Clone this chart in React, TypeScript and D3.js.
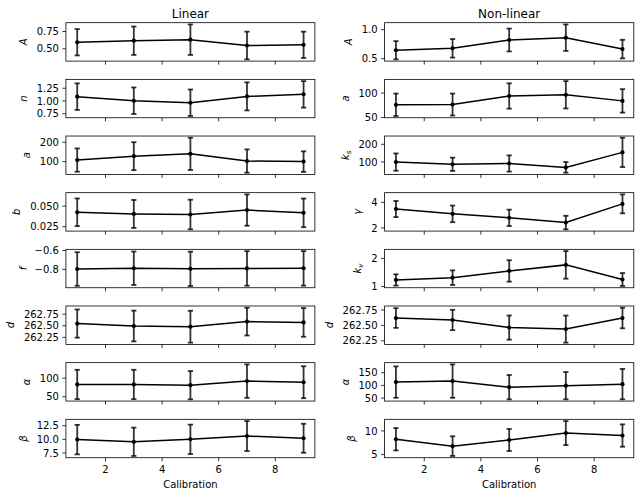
import React from "react";
import * as d3 from "d3";

// calibration points shared by every panel
const calibration = [1, 3, 5, 7, 9];
const xTicks = [2, 4, 6, 8];

// Linear model parameters (mean, error)
const linA = [0.595, 0.617, 0.632, 0.548, 0.558];
const linAErr = [0.19, 0.205, 0.22, 0.2, 0.19];
const linN = [1.085, 1.005, 0.965, 1.09, 1.13];
const linNErr = [0.26, 0.26, 0.26, 0.275, 0.26];
const linSmallA = [108, 128, 140, 103, 100];
const linSmallAErr = [60, 72, 83, 60, 53];
const linB = [0.0425, 0.0405, 0.0398, 0.0452, 0.0418];
const linBErr = [0.0168, 0.017, 0.018, 0.019, 0.0174];
const linF = [-0.796, -0.788, -0.794, -0.79, -0.789];
const linFErr = [0.178, 0.177, 0.182, 0.183, 0.183];
const linD = [262.548, 262.495, 262.48, 262.59, 262.573];
const linDErr = [0.305, 0.333, 0.345, 0.3, 0.31];
const linAlpha = [83, 83, 81, 92, 89];
const linAlphaErr = [39.5, 39.5, 38, 45, 43];
const linBeta = [9.95, 9.55, 10.0, 10.6, 10.2];
const linBetaErr = [2.7, 2.6, 2.7, 2.75, 2.65];

// Non-linear model parameters (mean, error)
const nlA = [0.645, 0.678, 0.822, 0.862, 0.665];
const nlAErr = [0.157, 0.16, 0.197, 0.228, 0.16];
const nlSmallA = [76, 76.5, 94, 96.5, 84];
const nlSmallAErr = [23, 22.5, 26, 28, 24];
const nlKs = [99, 86.5, 91, 69, 154];
const nlKsErr = [49, 37.5, 46, 30, 83];
const nlGamma = [3.48, 3.1, 2.79, 2.42, 3.88];
const nlGammaErr = [0.63, 0.65, 0.64, 0.53, 0.74];
const nlKv = [1.235, 1.315, 1.555, 1.77, 1.25];
const nlKvErr = [0.2, 0.26, 0.38, 0.49, 0.23];
const nlD = [262.62, 262.588, 262.465, 262.44, 262.62];
const nlDErr = [0.16, 0.165, 0.196, 0.22, 0.167];
const nlAlpha = [113, 117, 93, 99, 105];
const nlAlphaErr = [62, 66, 48, 54, 60];
const nlBeta = [8.25, 6.79, 8.09, 9.55, 9.03];
const nlBetaErr = [2.36, 2.08, 2.33, 2.54, 2.36];

// y tick labels per panel
const linTicks = [
  ["0.50", "0.75"],
  ["0.75", "1.00", "1.25"],
  ["100", "200"],
  ["0.025", "0.050"],
  ["\u22120.8", "\u22120.6"],
  ["262.25", "262.50", "262.75"],
  ["50", "100"],
  ["7.5", "10.0", "12.5"],
];
const nlTicks = [
  ["0.5", "1.0"],
  ["50", "100"],
  ["100", "200"],
  ["2", "4"],
  ["1", "2"],
  ["262.25", "262.50", "262.75"],
  ["50", "100", "150"],
  ["5", "10"],
];

const linLabels = ["A", "n", "a", "b", "f", "d", "\u03b1", "\u03b2"];
const nlLabels = ["A", "a", "k|s", "\u03b3", "k|v", "d", "\u03b1", "\u03b2"];

const linSeries = [
  [linA, linAErr],
  [linN, linNErr],
  [linSmallA, linSmallAErr],
  [linB, linBErr],
  [linF, linFErr],
  [linD, linDErr],
  [linAlpha, linAlphaErr],
  [linBeta, linBetaErr],
];
const nlSeries = [
  [nlA, nlAErr],
  [nlSmallA, nlSmallAErr],
  [nlKs, nlKsErr],
  [nlGamma, nlGammaErr],
  [nlKv, nlKvErr],
  [nlD, nlDErr],
  [nlAlpha, nlAlphaErr],
  [nlBeta, nlBetaErr],
];

const W = 640;
const H = 496;
const top0 = 22.7;
const rowStep = 56.66;
const rowH = 38.4;
const font = "DejaVu Sans";

function textWidth(s: string) {
  let w = 0;
  for (const c of s) w += c === "." ? 3.18 : 6.36;
  return w;
}

function Panel({ left, right, row, vals, errs, ticks, label, last }: any) {
  const top = top0 + row * rowStep;
  const bottom = top + rowH;
  const x = d3.scaleLinear().domain([0.6, 9.4]).range([left, right]);
  const lo = d3.min(vals, (v: number, i: number) => v - errs[i]) as number;
  const hi = d3.max(vals, (v: number, i: number) => v + errs[i]) as number;
  const pad = (hi - lo) * 0.05;
  const y = d3.scaleLinear().domain([lo - pad, hi + pad]).range([bottom, top]);
  const line = d3
    .line<number>()
    .x((_, i) => x(calibration[i]))
    .y((d) => y(d));
  const tw = d3.max(ticks, (t: string) => textWidth(t)) as number;
  const lx = left - 7 - tw - 10;
  const [main, sub] = label.split("|");
  return (
    <g>
      <path d={line(vals) as string} fill="none" stroke="black" strokeWidth={1.5} />
      {vals.map((v: number, i: number) => {
        const cx = x(calibration[i]);
        return (
          <g key={i} stroke="black" strokeOpacity={0.8} strokeWidth={1.8}>
            <line x1={cx} x2={cx} y1={y(v - errs[i])} y2={y(v + errs[i])} />
            <line x1={cx - 2.6} x2={cx + 2.6} y1={y(v - errs[i])} y2={y(v - errs[i])} />
            <line x1={cx - 2.6} x2={cx + 2.6} y1={y(v + errs[i])} y2={y(v + errs[i])} />
          </g>
        );
      })}
      {vals.map((v: number, i: number) => (
        <circle key={i} cx={x(calibration[i])} cy={y(v)} r={2.1} fill="black" />
      ))}
      <rect x={left} y={top} width={right - left} height={rowH} fill="none" stroke="black" strokeWidth={0.8} />
      {ticks.map((t: string) => {
        const ty = y(parseFloat(t.replace("\u2212", "-")));
        return (
          <g key={t}>
            <line x1={left - 3.5} x2={left} y1={ty} y2={ty} stroke="black" strokeWidth={0.8} />
            <text x={left - 7} y={ty} dy="0.36em" textAnchor="end" fontSize={10} fontFamily={font}>
              {t}
            </text>
          </g>
        );
      })}
      {xTicks.map((t) => (
        <g key={t}>
          <line x1={x(t)} x2={x(t)} y1={bottom} y2={bottom + 3.5} stroke="black" strokeWidth={0.8} />
          {last && (
            <text x={x(t)} y={bottom + 15.6} textAnchor="middle" fontSize={10} fontFamily={font}>
              {t}
            </text>
          )}
        </g>
      ))}
      <text
        transform={`translate(${lx},${(top + bottom) / 2}) rotate(-90)`}
        textAnchor="middle"
        fontSize={10}
        fontStyle="italic"
        fontFamily={font}
      >
        {main}
        {sub && (
          <tspan fontSize={7} dy={2}>
            {sub}
          </tspan>
        )}
      </text>
    </g>
  );
}

export default function App() {
  const cols = [
    { left: 65.9, right: 314.9, title: "Linear", series: linSeries, ticks: linTicks, labels: linLabels },
    { left: 384.6, right: 633.8, title: "Non-linear", series: nlSeries, ticks: nlTicks, labels: nlLabels },
  ];
  return (
    <svg
      width={W}
      height={H}
      style={{ display: "block", background: "white", position: "absolute", left: 0, top: 0 }}
    >
      {cols.map((c) => (
        <g key={c.title}>
          <text x={(c.left + c.right) / 2} y={18.3} textAnchor="middle" fontSize={12} fontFamily={font}>
            {c.title}
          </text>
          {c.series.map((s, r) => (
            <Panel
              key={r}
              left={c.left}
              right={c.right}
              row={r}
              vals={s[0]}
              errs={s[1]}
              ticks={c.ticks[r]}
              label={c.labels[r]}
              last={r === 7}
            />
          ))}
          <text x={(c.left + c.right) / 2} y={488} textAnchor="middle" fontSize={10} fontFamily={font}>
            Calibration
          </text>
        </g>
      ))}
    </svg>
  );
}
